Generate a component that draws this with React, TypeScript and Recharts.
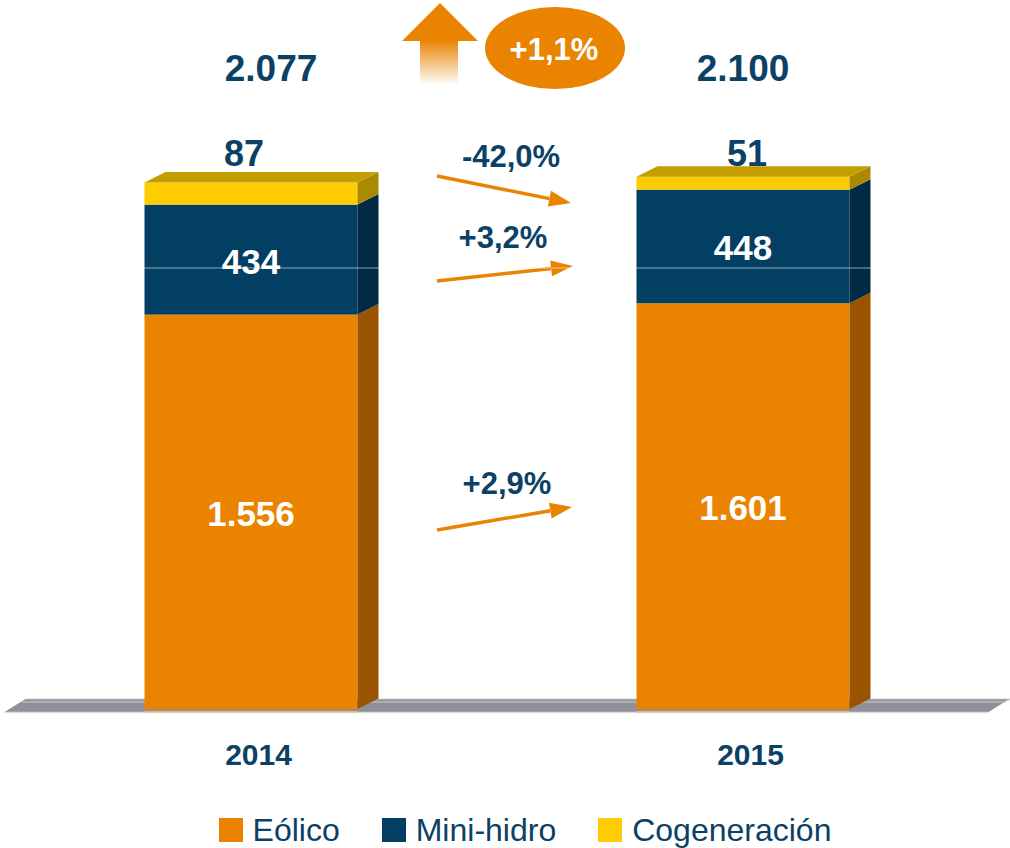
import {
  BarChart, Bar, XAxis, YAxis, Legend, LabelList, ReferenceLine, Customized, usePlotArea,
} from "recharts";

const years = ["2014", "2015"];
const series = ["Eólico", "Mini-hidro", "Cogeneración"];
const eolico = [1556, 1601];
const miniHidro = [434, 448];
const cogeneracion = [87, 51];
// variación 2014 -> 2015 por tecnología, tal cual aparece en la lámina
const variaciones = ["+2,9%", "+3,2%", "-42,0%"];
const variacionTotal = "+1,1%";

const ORANGE = "#E98300";
const NAVY = "#023F63";
const YELLOW = "#FFCC00";
const TEXT = "#0c4166";
const FONT = "Arial, 'Liberation Sans', sans-serif";
const DX = 21;
const DY = 10.5;

const data = years.map((year, i) => ({
  year,
  eolico: eolico[i],
  miniHidro: miniHidro[i],
  cogeneracion: cogeneracion[i],
  total: eolico[i] + miniHidro[i] + cogeneracion[i],
}));

const fmt = (n: number) => String(n).replace(/\B(?=(\d{3})+(?!\d))/g, ".");

function Bar3D(props: any) {
  const { x, y, width: w, height: h, fill, side, topFace, reflection } = props;
  if (!w || !h) return null;
  return (
    <g>
      {reflection && <rect x={x} y={y + h + 2} width={w} height={1.5} fill="#f6b865" />}
      <rect x={x} y={y} width={w} height={h} fill={fill} />
      <polygon
        points={`${x + w},${y} ${x + w + DX},${y - DY} ${x + w + DX},${y + h - DY} ${x + w},${y + h}`}
        fill={side}
      />
      {topFace && (
        <polygon
          points={`${x},${y} ${x + DX},${y - DY} ${x + w + DX},${y - DY} ${x + w},${y}`}
          fill={topFace}
        />
      )}
    </g>
  );
}

function Floor() {
  const plot = usePlotArea();
  if (!plot) return null;
  const left = plot.x;
  const right = plot.x + plot.width;
  const base = plot.y + plot.height;
  return (
    <g>
      <polygon
        points={`${left},${base + 3} ${right},${base + 3} ${right + DX},${base - 10} ${left + DX},${base - 10}`}
        fill="#8e9196"
      />
      <line x1={left + DX} y1={base - 9.5} x2={right + DX} y2={base - 9.5} stroke="#a3a8b0" strokeWidth={1.5} />
      <line x1={left + DX - 4} y1={base - 7} x2={right + DX - 4} y2={base - 7} stroke="#c9ccd0" strokeWidth={1} />
      <line x1={left} y1={base + 3.5} x2={right} y2={base + 3.5} stroke="#dedede" strokeWidth={1.5} />
    </g>
  );
}

function Arrow({ x1, y1, x2, y2 }: { x1: number; y1: number; x2: number; y2: number }) {
  const ang = Math.atan2(y2 - y1, x2 - x1);
  const len = 22;
  const half = 8;
  const bx = x2 - len * Math.cos(ang);
  const by = y2 - len * Math.sin(ang);
  const px = -Math.sin(ang) * half;
  const py = Math.cos(ang) * half;
  return (
    <g>
      <line x1={x1} y1={y1} x2={bx} y2={by} stroke={ORANGE} strokeWidth={3.5} />
      <polygon points={`${x2},${y2} ${bx + px},${by + py} ${bx - px},${by - py}`} fill={ORANGE} />
    </g>
  );
}

// posiciones de las flechas de variación (eólico, mini-hidro, cogeneración)
const arrowLayout = [
  { x1: 437, y1: 530, x2: 572, y2: 507, tx: 507, ty: 494 },
  { x1: 437, y1: 281, x2: 573, y2: 266, tx: 503, ty: 248 },
  { x1: 437, y1: 176, x2: 571, y2: 203, tx: 511, ty: 167 },
];

function Annotations() {
  return (
    <g fontFamily={FONT} fontWeight="bold">
      <defs>
        <linearGradient id="shaftFade" x1="0" y1="0" x2="0" y2="1">
          <stop offset="0%" stopColor={ORANGE} stopOpacity={1} />
          <stop offset="100%" stopColor={ORANGE} stopOpacity={0.05} />
        </linearGradient>
      </defs>
      <polygon points="440,3 402,41 478,41" fill={ORANGE} />
      <rect x={420} y={40} width={38} height={43} fill="url(#shaftFade)" />
      <ellipse cx={555} cy={48} rx={70} ry={41} fill={ORANGE} />
      <text x={554} y={60} textAnchor="middle" fill="#fff" fontSize={31}>{variacionTotal}</text>
      {variaciones.map((v, i) => {
        const a = arrowLayout[i];
        return (
          <g key={v}>
            <Arrow x1={a.x1} y1={a.y1} x2={a.x2} y2={a.y2} />
            <text x={a.tx} y={a.ty} textAnchor="middle" fill={TEXT} fontSize={31}>{v}</text>
          </g>
        );
      })}
    </g>
  );
}

const insideLabel = (props: any) => {
  const { x, y, width, height, value } = props;
  return (
    <text x={x + width / 2} y={y + height / 2 + 14} textAnchor="middle" fill="#fff"
      fontFamily={FONT} fontWeight="bold" fontSize={35}>
      {fmt(value)}
    </text>
  );
};

// los rótulos superiores de la lámina no están centrados exactamente sobre cada barra
const topNudge = [-7, 4];
const totalNudge = [20, 0];

const topLabel = (props: any) => {
  const { x, width, value, index } = props;
  return (
    <text x={x + width / 2 + (topNudge[index] ?? 0)} y={166} textAnchor="middle" fill={TEXT}
      fontFamily={FONT} fontWeight="bold" fontSize={36}>
      {fmt(value)}
    </text>
  );
};

const totalLabel = (props: any) => {
  const { x, width, value, index } = props;
  return (
    <text x={x + width / 2 + (totalNudge[index] ?? 0)} y={81} textAnchor="middle" fill={TEXT}
      fontFamily={FONT} fontWeight="bold" fontSize={37}>
      {fmt(value)}
    </text>
  );
};

const YearTick = (props: any) => {
  const { x, y, payload } = props;
  return (
    <text x={x + 8} y={y + 48} textAnchor="middle" fill={TEXT}
      fontFamily={FONT} fontWeight="bold" fontSize={30}>
      {payload.value}
    </text>
  );
};

const renderLegend = (props: any) => {
  const items = [...(props.payload || [])].sort(
    (a: any, b: any) => series.indexOf(a.value) - series.indexOf(b.value),
  );
  return (
    <div style={{
      display: "flex", justifyContent: "center", paddingLeft: 40, gap: 42,
      fontFamily: FONT, fontSize: 32, lineHeight: "36px", color: TEXT,
    }}>
      {items.map((e: any) => (
        <div key={e.value} style={{ display: "flex", alignItems: "center" }}>
          <span style={{ width: 24, height: 24, background: e.color, marginRight: 10, display: "inline-block" }} />
          {e.value}
        </div>
      ))}
    </div>
  );
};

export default function App() {
  return (
    <div style={{ width: 1010, height: 848 }}>
      <style>{"body{margin:0}"}</style>
      <BarChart width={1010} height={848} data={data}
        margin={{ top: 50, right: 21.5, left: 4.5, bottom: 89 }}>
        <Customized component={<Floor />} />
        <XAxis dataKey="year" axisLine={false} tickLine={false} height={50} tick={<YearTick />} interval={0} />
        <YAxis hide domain={[0, 2600]} />
        <Bar dataKey="eolico" name={series[0]} stackId="a" fill={ORANGE} barSize={213} isAnimationActive={false}
          shape={(p: any) => <Bar3D {...p} side="#9A5300" reflection />}>
          <LabelList dataKey="eolico" content={insideLabel} />
        </Bar>
        <Bar dataKey="miniHidro" name={series[1]} stackId="a" fill={NAVY} barSize={213} isAnimationActive={false}
          shape={(p: any) => <Bar3D {...p} side="#012B45" />}>
          <LabelList dataKey="miniHidro" content={insideLabel} />
        </Bar>
        <Bar dataKey="cogeneracion" name={series[2]} stackId="a" fill={YELLOW} barSize={213} isAnimationActive={false}
          shape={(p: any) => <Bar3D {...p} side="#A98A00" topFace="#C49D00" />}>
          <LabelList dataKey="cogeneracion" content={topLabel} />
          <LabelList dataKey="total" content={totalLabel} />
        </Bar>
        <ReferenceLine y={1740} stroke="#ffffff" strokeOpacity={0.55} strokeWidth={1} />
        <Customized component={<Annotations />} />
        <Legend content={renderLegend} layout="horizontal" verticalAlign="middle" align="center"
          wrapperStyle={{ position: "absolute", top: 812, left: 0, width: 1010 }} />
      </BarChart>
    </div>
  );
}
